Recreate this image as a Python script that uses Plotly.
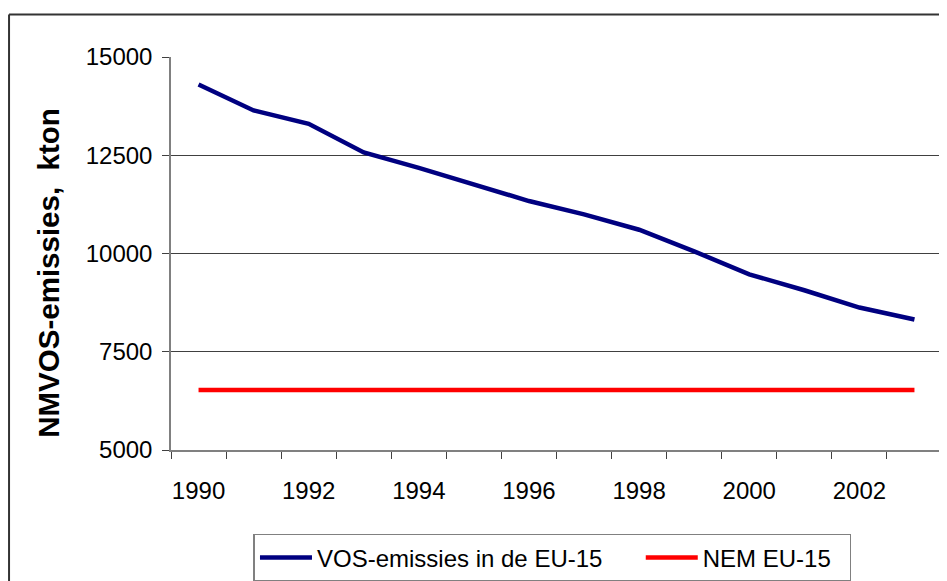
import plotly.graph_objects as go

years = list(range(1990, 2004))
vos_emissions = [14300, 13640, 13300, 12570, 12180, 11750, 11335, 10995, 10605, 10055, 9470, 9065, 8625, 8320]
nem_ceiling = [6525] * len(years)
x_tick_labels = ["1990", "1992", "1994", "1996", "1998", "2000", "2002"]
y_ticks = [5000, 7500, 10000, 12500, 15000]

OFF = 8  # page body margin
W, H = 947 - OFF, 581 - OFF
L, R, T, B = 170.5 - OFF, 5.3, 56.5 - OFF, 131
pw = W - L - R
ph = H - T - B

def px_x(p):  # p in screen px
    return (p - OFF - L) / pw

def px_y(p):
    return (H - B - (p - OFF)) / ph

FONT = "Arial, Liberation Sans, sans-serif"

fig = go.Figure()
fig.add_trace(go.Scatter(x=years, y=vos_emissions, mode="lines",
                         name="VOS-emissies in de EU-15" + "\u00a0" * 5,
                         line=dict(color="#000080", width=4.5)))
fig.add_trace(go.Scatter(x=years, y=nem_ceiling, mode="lines",
                         name="NEM EU-15" + "\u00a0" * 2,
                         line=dict(color="#FF0000", width=4.5)))

fig.update_layout(
    width=W, height=H,
    margin=dict(l=L, r=R, t=T, b=B, autoexpand=False),
    paper_bgcolor="white", plot_bgcolor="white",
    font=dict(family=FONT, size=24, color="black"),
    showlegend=True,
    legend=dict(orientation="h", xanchor="left", yanchor="top",
                x=px_x(253), y=px_y(534),
                bordercolor="#808080", borderwidth=1.5,
                font=dict(size=24), bgcolor="white",
                itemwidth=52, tracegroupgap=0),
    xaxis=dict(range=[1989.5, 2003.5], tickmode="array",
               tickvals=[int(t) for t in x_tick_labels], ticktext=x_tick_labels,
               ticks="", showgrid=False, zeroline=False,
               showline=True, linecolor="#808080", linewidth=1.5,
               ticklabelstandoff=18,
               minor=dict(ticks="outside", tick0=1989.5, dtick=1, ticklen=7,
                          tickcolor="#404040", tickwidth=1, showgrid=False),
               tickfont=dict(size=24)),
    yaxis=dict(range=[5000, 15000], tickvals=y_ticks,
               ticktext=[str(v) for v in y_ticks],
               ticks="outside", ticklen=7, tickcolor="#404040", tickwidth=1,
               showgrid=True, gridcolor="#404040", gridwidth=1,
               zeroline=False, showline=True, linecolor="#808080", linewidth=1.5,
               ticklabelstandoff=5, tickfont=dict(size=24)),
    annotations=[dict(text="<b>NMVOS-emissies,  kton</b>", textangle=-90,
                      xref="paper", yref="paper", x=px_x(48), y=px_y(273),
                      xanchor="center", yanchor="middle", showarrow=False,
                      font=dict(size=29.5, family=FONT))],
    shapes=[
        dict(type="line", xref="paper", yref="paper",
             x0=px_x(8.5), x1=px_x(8.5), y0=px_y(14), y1=px_y(600),
             line=dict(color="#333333", width=2)),
        dict(type="line", xref="paper", yref="paper",
             x0=px_x(8.5), x1=px_x(960), y0=px_y(14), y1=px_y(14),
             line=dict(color="#333333", width=2)),
    ],
)

fig.write_html("out.html")
